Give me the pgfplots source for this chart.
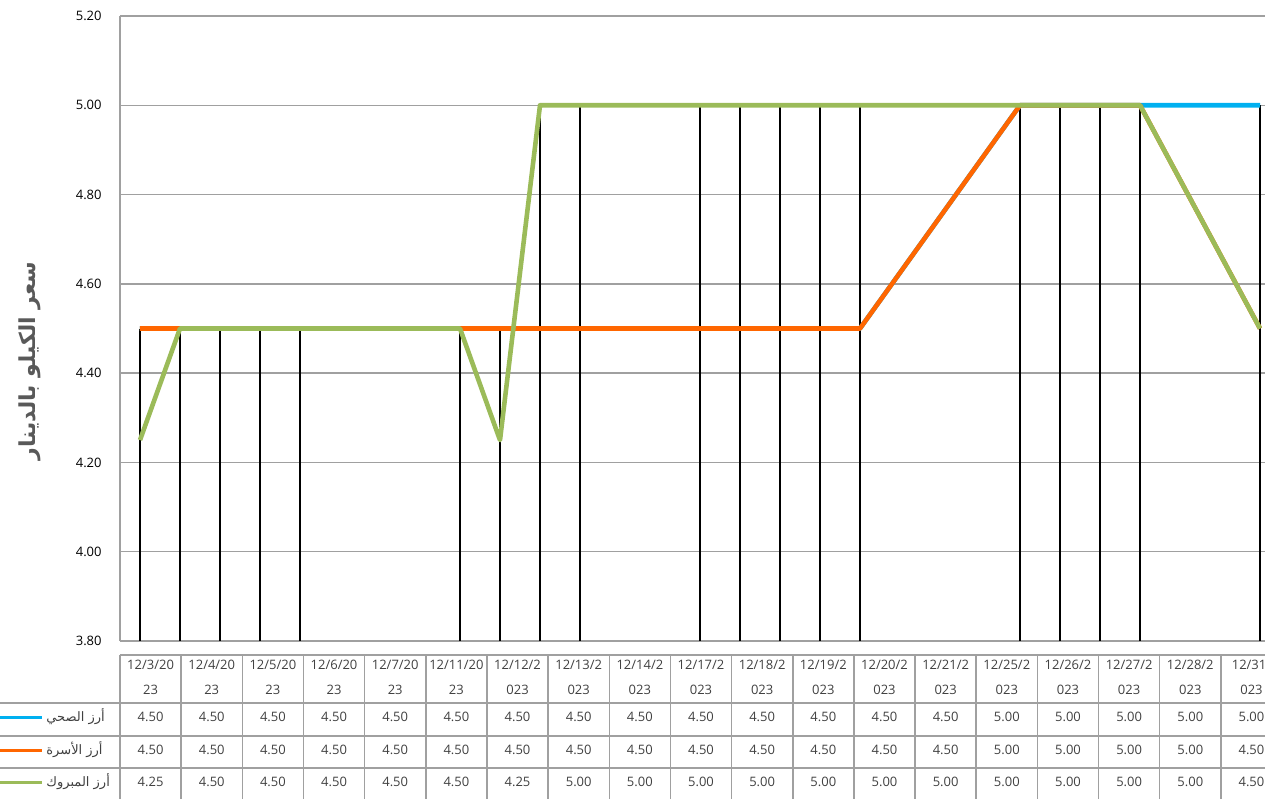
\documentclass[border=0pt]{standalone}
\usepackage{pgfplots}
\pgfplotsset{compat=1.18}
\usepackage{pgfplotstable}
\usepackage{fontspec}
\setmainfont{Open Sans}
\newfontfamily\arabicfont[Script=Arabic]{DejaVu Sans}
\TeXXeTstate=1
\definecolor{cblue}{HTML}{00B0F0}
\definecolor{corange}{HTML}{FF6600}
\definecolor{cgreen}{HTML}{9BBB59}
\definecolor{cgrid}{HTML}{A0A0A0}
\definecolor{ctext}{HTML}{404040}
\definecolor{clabel}{HTML}{595959}

\pgfplotstableread{
day blue orange green top
3  4.50 4.50 4.25 4.50
4  4.50 4.50 4.50 4.50
5  4.50 4.50 4.50 4.50
6  4.50 4.50 4.50 4.50
7  4.50 4.50 4.50 4.50
11 4.50 4.50 4.50 4.50
12 4.50 4.50 4.25 4.50
13 4.50 4.50 5.00 5.00
14 4.50 4.50 5.00 5.00
17 4.50 4.50 5.00 5.00
18 4.50 4.50 5.00 5.00
19 4.50 4.50 5.00 5.00
20 4.50 4.50 5.00 5.00
21 4.50 4.50 5.00 5.00
25 5.00 5.00 5.00 5.00
26 5.00 5.00 5.00 5.00
27 5.00 5.00 5.00 5.00
28 5.00 5.00 5.00 5.00
31 5.00 4.50 4.50 5.00
}\pricedata

\begin{document}
\begin{tikzpicture}[x=0.5pt,y=0.5pt]
\useasboundingbox (0,0) rectangle (1265,799);
\clip (0,0) rectangle (1265,799);
\begin{axis}[
  at={(60pt,79pt)}, anchor=south west,
  scale only axis, width=581pt, height=312.5pt,
  xmin=2.5, xmax=31.55, ymin=3.8, ymax=5.2,
  xtick=\empty,
  ytick={3.8,4.0,4.2,4.4,4.6,4.8,5.0,5.2},
  yticklabel style={/pgf/number format/fixed, /pgf/number format/fixed zerofill, /pgf/number format/precision=2, /pgf/number format/assume math mode=true},
  yticklabel style={anchor=east, inner sep=0pt, xshift=-9pt, font=\fontsize{6.5}{8}\selectfont, text=black},
  major tick length=0pt,
  axis lines*=left,
  axis line style={cgrid, line width=0.75pt, -},
  ymajorgrids, grid style={cgrid, line width=0.75pt},
  clip=true,
]
\addplot[black, line width=0.7pt, ycomb, forget plot] table[x=day,y=top]{\pricedata};
\addplot[cblue, line width=2.3pt, line join=round] table[x=day,y=blue]{\pricedata};
\addplot[corange, line width=2.3pt, line join=round] table[x=day,y=orange]{\pricedata};
\addplot[cgreen, line width=2.3pt, line join=round] table[x=day,y=green]{\pricedata};
\end{axis}

% y label
\node[rotate=90, text=clabel, font=\fontsize{11}{13}\selectfont\arabicfont\bfseries] at (30,438) {\beginR سعر الكيلو بالدينار\endR};

% data table grid
\draw[cgrid, line width=0.75pt] (120,144) -- (1282,144);
\foreach \yy in {96,63,31} \draw[cgrid, line width=0.75pt] (0,\yy) -- (1282,\yy);
\foreach \k in {0,...,19} \draw[cgrid, line width=0.75pt] ({120+61.16*\k},144) -- ({120+61.16*\k},0);

% header
\foreach \a [count=\i from 0] in {{12/3/20},{12/4/20},{12/5/20},{12/6/20},{12/7/20},{12/11/20},{12/12/2},{12/13/2},{12/14/2},{12/17/2},{12/18/2},{12/19/2},{12/20/2},{12/21/2},{12/25/2},{12/26/2},{12/27/2},{12/28/2},{12/31/}}
  \node[text=ctext, font=\fontsize{6.5}{8}\selectfont, inner sep=0pt] at ({120+61.16*(\i+0.5)},134) {\a};
\foreach \a [count=\i from 0] in {23,23,23,23,23,23,023,023,023,023,023,023,023,023,023,023,023,023,023}
  \node[text=ctext, font=\fontsize{6.5}{8}\selectfont, inner sep=0pt] at ({120+61.16*(\i+0.5)},109) {\a};

% values
\foreach \a [count=\i from 0] in {4.50,4.50,4.50,4.50,4.50,4.50,4.50,4.50,4.50,4.50,4.50,4.50,4.50,4.50,5.00,5.00,5.00,5.00,5.00}
  \node[text=ctext, font=\fontsize{6.5}{8}\selectfont, inner sep=0pt] at ({120+61.16*(\i+0.5)},82) {\a};
\foreach \a [count=\i from 0] in {4.50,4.50,4.50,4.50,4.50,4.50,4.50,4.50,4.50,4.50,4.50,4.50,4.50,4.50,5.00,5.00,5.00,5.00,4.50}
  \node[text=ctext, font=\fontsize{6.5}{8}\selectfont, inner sep=0pt] at ({120+61.16*(\i+0.5)},49) {\a};
\foreach \a [count=\i from 0] in {4.25,4.50,4.50,4.50,4.50,4.50,4.25,5.00,5.00,5.00,5.00,5.00,5.00,5.00,5.00,5.00,5.00,5.00,4.50}
  \node[text=ctext, font=\fontsize{6.5}{8}\selectfont, inner sep=0pt] at ({120+61.16*(\i+0.5)},17) {\a};

% legend keys
\draw[cblue, line width=1.5pt] (-5,82) -- (42,82);
\draw[corange, line width=1.5pt] (-5,49) -- (42,49);
\draw[cgreen, line width=1.5pt] (-5,17) -- (42,17);
\node[anchor=west, inner sep=0pt, text=ctext, font=\fontsize{6.5}{8}\selectfont\arabicfont] at (46,82) {\beginR أرز الصحي\endR};
\node[anchor=west, inner sep=0pt, text=ctext, font=\fontsize{6.5}{8}\selectfont\arabicfont] at (46,49) {\beginR أرز الأسرة\endR};
\node[anchor=west, inner sep=0pt, text=ctext, font=\fontsize{6.5}{8}\selectfont\arabicfont] at (46,17) {\beginR أرز المبروك\endR};
\end{tikzpicture}
\end{document}
